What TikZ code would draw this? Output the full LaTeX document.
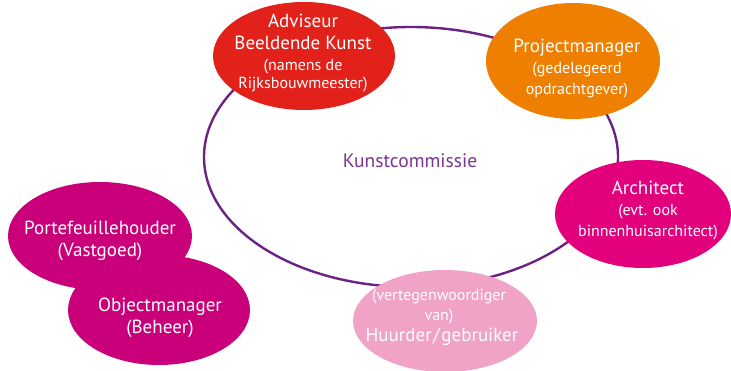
\documentclass[tikz,border=0pt]{standalone}
\usepackage{fontspec}
\setmainfont{PT Sans}
\usetikzlibrary{shapes.geometric}
\definecolor{advred}{HTML}{E3211B}
\definecolor{pmorange}{HTML}{EF7F00}
\definecolor{archpink}{HTML}{E3007D}
\definecolor{huurpink}{HTML}{F0A2C7}
\definecolor{portmag}{HTML}{C9007A}
\definecolor{ringpurple}{HTML}{6B2282}
\definecolor{kunstpurple}{HTML}{7A3590}
\tikzset{
  blob/.style={ellipse, inner sep=0pt, draw=none},
  ln/.style={text=white, inner sep=0pt, anchor=base},
  bg/.style={font=\fontsize{19}{22}\selectfont},
  sm/.style={font=\fontsize{16}{19}\selectfont},
  ring/.style={draw=ringpurple, line width=2.4pt},
}
\begin{document}
\begin{tikzpicture}[x=1pt,y=-1pt]
\useasboundingbox (0,0) rectangle (731,371);
\coordinate (ringc) at (411,157);
\draw[ring] (ringc) ellipse [x radius=207pt, y radius=130pt];
\node[text=kunstpurple, font=\fontsize{19.5}{22}\selectfont, inner sep=0pt, anchor=base] (kunst) at (410,168) {Kunstcommissie};

\node[blob, fill=advred, minimum width=182pt, minimum height=108pt] (adv) at (304,56) {};
\node[ln, bg] (adv1) at (303,28) {Adviseur};
\node[ln, bg] (adv2) at (303,50) {Beeldende Kunst};
\node[ln, sm] (adv3) at (303,71) {(namens de};
\node[ln, sm] (adv4) at (303,89) {Rijksbouwmeester)};

\node[blob, fill=pmorange, minimum width=174pt, minimum height=116pt] (pm) at (573,61) {};
\node[ln, bg] (pm1) at (577,53) {Projectmanager};
\node[ln, sm] (pm2) at (577,74) {(gedelegeerd};
\node[ln, sm] (pm3) at (577,95) {opdrachtgever)};

\node[blob, fill=archpink, minimum width=176pt, minimum height=108pt] (arch) at (643,214) {};
\node[ln, bg] (arch1) at (648,195) {Architect};
\node[ln, sm] (arch2) at (648,216) {(evt. ook};
\node[ln, sm] (arch3) at (648,237) {binnenhuisarchitect)};

\node[blob, fill=huurpink, minimum width=184pt, minimum height=102pt] (huur) at (445,321) {};
\node[ln, sm] (huur1) at (439,300.5) {(vertegenwoordiger};
\node[ln, sm] (huur2) at (439,321) {van)};
\node[ln, bg] (huur3) at (442,341.5) {Huurder\hspace{1.5pt}/\hspace{1.5pt}gebruiker};

\node[blob, fill=portmag, minimum width=184pt, minimum height=108pt] (port) at (100,236) {};
\node[blob, fill=portmag, minimum width=182pt, minimum height=110pt] (obj) at (159,310) {};
\node[ln, bg] (port1) at (100,235) {Portefeuillehouder};
\node[ln, bg] (port2) at (100,257) {(Vastgoed)};
\node[ln, bg] (obj1) at (160,311.5) {Objectmanager};
\node[ln, bg] (obj2) at (160,334) {(Beheer)};
\end{tikzpicture}
\end{document}
